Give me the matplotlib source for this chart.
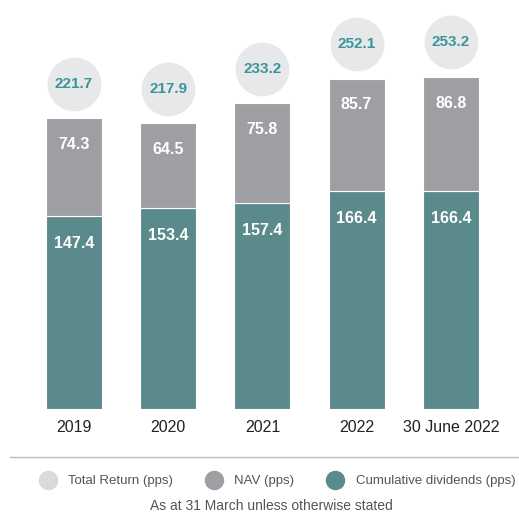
import numpy as np
import matplotlib.pyplot as plt
from matplotlib.lines import Line2D

# Data
periods = ['2019', '2020', '2021', '2022', '30 June 2022']
dividends = [147.4, 153.4, 157.4, 166.4, 166.4]
nav = [74.3, 64.5, 75.8, 85.7, 86.8]
total_return = [221.7, 217.9, 233.2, 252.1, 253.2]

teal = '#5b8a8c'
grey = '#9e9fa3'
bubble = '#e7e8ea'
ret_text = '#3a969a'

plt.rcParams['font.family'] = ['Liberation Sans', 'DejaVu Sans']

fig = plt.figure(figsize=(5.19, 5.12), dpi=100)
ax = fig.add_axes([0, 103 / 512, 1, 409 / 512])

x = np.arange(len(periods))
w = 0.594
ax.bar(x, dividends, w, color=teal, edgecolor='white', linewidth=0.8)
ax.bar(x, nav, w, bottom=dividends, color=grey, edgecolor='white', linewidth=0.8)

# bubbles with total return
tops = np.array(dividends) + np.array(nav)
ax.scatter(x, tops + 26.5, s=1500, color=bubble, zorder=3, linewidths=0)
for i in range(len(x)):
    ax.text(x[i], tops[i] + 26.5, f'{total_return[i]:.1f}', ha='center', va='center',
            color=ret_text, fontsize=11, fontweight='bold', zorder=4)
    ax.annotate(f'{nav[i]:.1f}', (x[i], tops[i]), xytext=(0, -19), textcoords='offset points',
                ha='center', va='center', color='white', fontsize=11.5, fontweight='bold')
    ax.annotate(f'{dividends[i]:.1f}', (x[i], dividends[i]), xytext=(0, -20), textcoords='offset points',
                ha='center', va='center', color='white', fontsize=11.5, fontweight='bold')

ax.set_xlim(-0.786, 4.724)
ax.set_ylim(0, 312)
ax.set_xticks(x)
ax.set_xticklabels(periods, fontsize=11.5, color='#222222')
ax.tick_params(axis='x', length=0, pad=8)
ax.set_yticks([])
for s in ax.spines.values():
    s.set_visible(False)

# separator line
fig.add_artist(Line2D([10 / 519, 1], [55 / 512, 55 / 512], color='#bbbbbb', linewidth=1))

handles = [
    Line2D([], [], marker='o', linestyle='', markersize=13, color='#d9dadc', label='Total Return (pps)'),
    Line2D([], [], marker='o', linestyle='', markersize=13, color=grey, label='NAV (pps)'),
    Line2D([], [], marker='o', linestyle='', markersize=13, color=teal, label='Cumulative dividends (pps)'),
]
leg = fig.legend(handles=handles, ncol=3, loc='center', bbox_to_anchor=(0.535, 31 / 512),
                 frameon=False, fontsize=9.5, columnspacing=2.5, handletextpad=0.95, handlelength=1.2)
for t in leg.get_texts():
    t.set_color('#555555')

fig.text(0.522, 6 / 512, 'As at 31 March unless otherwise stated', ha='center', va='center',
         fontsize=10, color='#555555')

fig.savefig('out.png', dpi=100)
